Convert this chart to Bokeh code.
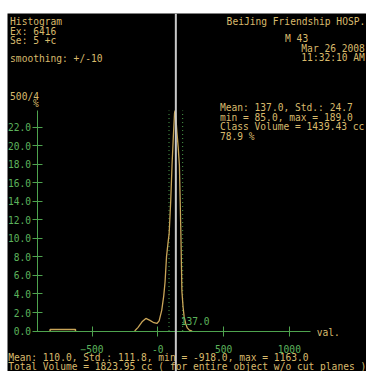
from bokeh.plotting import figure
from bokeh.models import LinearAxis, FixedTicker, Label, Span, Range1d, PrintfTickFormatter
from bokeh.embed import file_html
from bokeh.resources import INLINE

# ---- data ----
curve_x = [-176, -150, -120, -91, -60, -30, -7, 10, 30, 45, 55, 66, 79, 86, 98, 108, 118, 127, 131, 135, 145, 155, 164, 170, 176, 183, 192, 200, 212, 224, 240, 261]
curve_y = [0.0, 0.4, 1.0, 1.36, 1.15, 0.9, 0.82, 1.1, 2.26, 3.8, 5.3, 8.0, 9.7, 10.5, 14.0, 17.9, 21.0, 23.5, 23.8, 23.5, 21.5, 19.8, 17.9, 14.0, 10.0, 4.3, 2.6, 1.55, 0.8, 0.34, 0.1, 0.0]
rect_x = [-819, -819, -626, -626]
rect_y = [0.0, 0.17, 0.17, 0.0]
y_ticks = [0, 2, 4, 6, 8, 10, 12, 14, 16, 18, 20, 22]
x_ticks = [-500, 0, 500, 1000]
x_tick_labels = {0: "-0"}
class_min, class_max, class_mean = 85.0, 189.0, 137.0
x_min, x_max = -918.0, 1163.0
y_axis_top = 23.8

header_left = ["Histogram", "Ex: 6416", "Se: 5 +c"]
header_right = ["BeiJing Friendship HOSP.", "M 43", "Mar 26 2008", "11:32:10 AM"]
class_stats = ["Mean: 137.0, Std.: 24.7", "min = 85.0, max = 189.0",
               "Class Volume = 1439.43 cc", "78.9 %"]
footer = ["Mean: 110.0, Std.: 111.8, min = -918.0, max = 1163.0",
          "Total Volume = 1823.95 cc ( for entire object w/o cut planes )"]

TXT = "#d8ba6c"
CURVE = "#c9a558"
GREEN = "#4ea34e"
GREEN_TXT = "#5cb35c"
FONT = "DejaVu Sans Mono"

# layout: the figure is a scaled copy of the 382x387 screen
W, H = 366, 371
S = W / 382.0
FS = "%.1fpx" % (10 * S)
LEFTB = round(7 * S)
TOPB = round(14 * S)
X0PIX, XSCALE = 164.2 * S, 0.1373 * S    # figure x of value 0, px per unit
Y0PIX, YSCALE = 345.0 * S, 9.67 * S      # figure y of 0 %, px per %

p = figure(width=W, height=H, output_backend="svg", toolbar_location=None,
           x_axis_location=None, y_axis_location=None,
           x_range=Range1d((LEFTB - X0PIX) / XSCALE, (W - X0PIX) / XSCALE),
           y_range=Range1d((Y0PIX - H) / YSCALE, (Y0PIX - TOPB) / YSCALE),
           min_border_left=LEFTB, min_border_right=0, min_border_bottom=0, min_border_top=TOPB)
p.background_fill_color = "black"
p.border_fill_color = "white"
p.outline_line_color = None
p.grid.visible = False

# axes drawn inside the frame
yax = LinearAxis(fixed_location=x_min, bounds=(0, y_axis_top), ticker=FixedTicker(ticks=y_ticks),
                 formatter=PrintfTickFormatter(format="%.1f"))
xax = LinearAxis(fixed_location=0, bounds=(x_min, x_max), ticker=FixedTicker(ticks=x_ticks),
                 major_label_overrides=x_tick_labels)
for ax in (yax, xax):
    ax.axis_line_color = GREEN
    ax.major_tick_line_color = GREEN
    ax.major_tick_in = 5
    ax.major_tick_out = 5
    ax.minor_tick_line_color = None
    ax.major_label_text_color = GREEN_TXT
    ax.major_label_text_font = FONT
    ax.major_label_text_font_size = FS
yax.major_label_standoff = 1
xax.major_label_standoff = 9
p.add_layout(yax, "left")
p.add_layout(xax, "below")

# class boundaries (dotted)
p.segment(x0=[class_min, class_max], y0=[0, 0], x1=[class_min, class_max], y1=[y_axis_top, y_axis_top],
          line_color=GREEN, line_dash="1 3", line_width=1)

# curve + small block
p.line(rect_x, rect_y, line_color=CURVE, line_width=1.5)
p.line(curve_x, curve_y, line_color=CURVE, line_width=1.3)

# mean line
p.add_layout(Span(location=class_mean, dimension="height", line_color="#c8c8c8", line_width=2))


def lab(text, rx, ry, color=TXT):
    """rx, ry: position in the reference screen pixels"""
    p.add_layout(Label(x=rx * S - LEFTB, y=H - ry * S, x_units="screen", y_units="screen", text=text,
                       text_font=FONT, text_font_size=FS, text_color=color,
                       text_baseline="middle", text_align="left"))


for i, t in enumerate(header_left):
    lab(t, 10, 22 + 10 * i)
lab("smoothing: +/-10", 10, 61)
lab("500/4", 10, 100)
lab("%", 34, 108)
lab(header_right[0], 236, 22)
lab(header_right[1], 297, 40)
lab(header_right[2], 314, 50)
lab(header_right[3], 314, 60)
for i, t in enumerate(class_stats):
    lab(t, 229, 112 + 10 * i)
lab("%.1f" % class_mean, 188, 335, GREEN_TXT)
lab("val.", 330, 346)
lab(footer[0], 8, 373)
lab(footer[1], 8, 382.3)

open("out.html", "w").write(file_html(p, INLINE))
